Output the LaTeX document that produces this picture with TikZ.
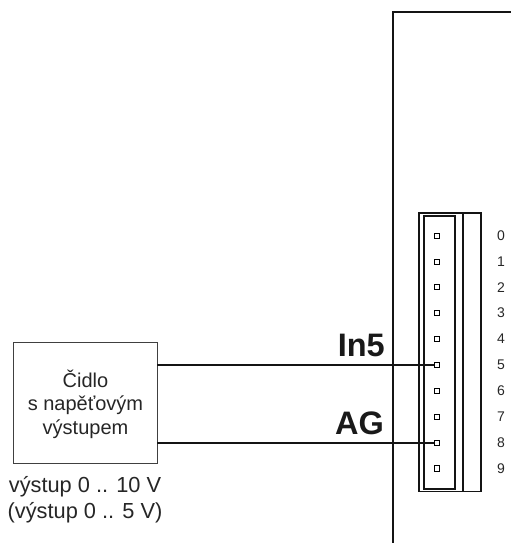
\documentclass[tikz,border=0pt]{standalone}
\usepackage{fontspec}
\setmainfont{Liberation Sans}
\tikzset{
  wire/.style={line width=1.4pt,color=black!92},
  thin frame/.style={line width=1.4pt,color=black!92},
  pin/.style={draw,line width=0.8pt,minimum size=5.2pt,inner sep=0pt,fill=white},
  digit/.style={font=\fontsize{14}{16}\selectfont,text=black!85,inner sep=0pt},
  sig/.style={font=\fontsize{32.5}{36}\selectfont\bfseries,text=black!90,inner sep=0pt,anchor=base east},
  sensor/.style={draw=black!75,line width=0.9pt,minimum width=144pt,minimum height=121pt,inner sep=0pt},
  sensortext/.style={align=center,inner sep=0pt,font=\fontsize{20}{23.5}\selectfont,text=black!85},
  note/.style={font=\fontsize{21.8}{26.5}\selectfont,text=black!85,align=center,inner sep=0pt}
}
\begin{document}
\begin{tikzpicture}[x=1pt,y=-1pt]
\useasboundingbox (0,0) rectangle (511,543);
\coordinate (frameB) at (393,543);
\coordinate (frameC) at (393,12);
\coordinate (frameR) at (511,12);
\draw[thin frame] (frameB) -- (frameC) -- (frameR);
\coordinate (outerA) at (419,213);
\coordinate (outerB) at (481,491.5);
\draw[thin frame] (outerA) rectangle (outerB);
\coordinate (divT) at (463,213);
\coordinate (divB) at (463,491.5);
\draw[thin frame] (divT) -- (divB);
\coordinate (innerA) at (424,216);
\coordinate (innerB) at (455,489);
\draw[thin frame] (innerA) rectangle (innerB);
\foreach \i/\yy in {0/235.7,1/261.5,2/287.2,3/313,4/339,5/365,6/390.8,7/416.7,8/443,9/468.3}{
  \node[pin] (p\i) at (437,\yy) {};
  \node[digit] (d\i) at (501,\yy) {\i};
}
\node[sensor] (s) at (85,402.5) {};
\node[sensortext] (st) at (85.5,404) {Čidlo\\s napěťovým\\výstupem};
\coordinate (sA) at (s.east |- p5);
\coordinate (sB) at (s.east |- p8);
\draw[wire] (sA) -- (p5.west);
\draw[wire] (sB) -- (p8.west);
\node[sig] (in5) at (385,356) {In5};
\node[sig] (ag) at (384,434) {AG};
\node[note] (n) at (85,499.5) {výstup 0 .. 10 V\\(výstup 0 .. 5 V)};
\end{tikzpicture}
\end{document}
